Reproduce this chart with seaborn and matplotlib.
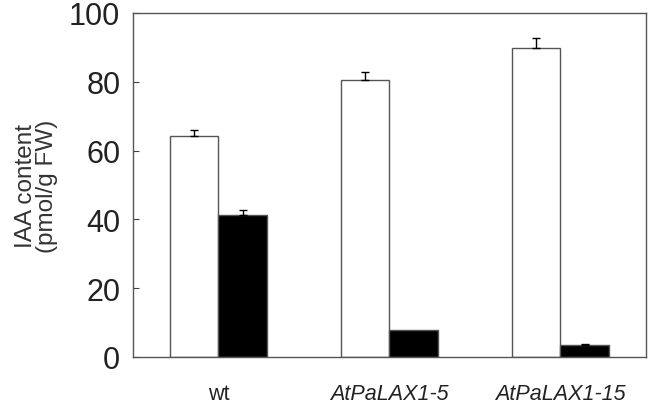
import matplotlib
matplotlib.use("Agg")
import matplotlib.pyplot as plt
import pandas as pd
import seaborn as sns

lines = ["wt", "AtPaLAX1-5", "AtPaLAX1-15"]
treatments = ["control", "treated"]
iaa_white = [64.1, 80.4, 89.9]
err_white = [2.0, 2.5, 2.8]
iaa_black = [41.4, 7.8, 3.6]
err_black = [1.3, 0.0, 0.3]

df = pd.DataFrame({
    "line": lines * 2,
    "treatment": [treatments[0]] * 3 + [treatments[1]] * 3,
    "iaa": iaa_white + iaa_black,
    "err": err_white + err_black,
})

sns.set_style("ticks")
plt.rcParams["font.family"] = ["Liberation Sans", "DejaVu Sans"]

fig = plt.figure(figsize=(6.61, 4.10), dpi=100)
ax = fig.add_axes([0.201, 0.127, 0.776, 0.839])

sns.barplot(data=df, x="line", y="iaa", hue="treatment", hue_order=treatments,
            palette=["white", "black"], width=0.57, edgecolor="#555555",
            linewidth=1, errorbar=None, legend=False, ax=ax)

# one-sided error bars on top of each bar
for patch, (_, row) in zip(ax.patches, df.iterrows()):
    xc = patch.get_x() + patch.get_width() / 2
    if row["err"] > 0:
        ax.errorbar(xc, row["iaa"], yerr=[[0], [row["err"]]], fmt="none",
                    ecolor="black", elinewidth=1, capsize=3, capthick=1)

ax.set_xlim(-0.5, 2.5)
ax.set_ylim(0, 100)
ax.set_yticks([0, 20, 40, 60, 80, 100])
ax.tick_params(axis="y", direction="in", length=4, labelsize=22, colors="#444444",
               labelcolor="#222222", pad=9)
ax.tick_params(axis="x", length=0, labelsize=15.5, labelcolor="#222222", pad=19)
for lab in ax.get_xticklabels()[1:]:
    lab.set_style("italic")
ax.set_xlabel("")
ax.set_ylabel("IAA content\n(pmol/g FW)", fontsize=17.5, color="#333333", labelpad=8,
              linespacing=0.95)
for sp in ax.spines.values():
    sp.set_visible(True)
    sp.set_color("#555555")
    sp.set_linewidth(1)

fig.savefig("out.png", dpi=100)
